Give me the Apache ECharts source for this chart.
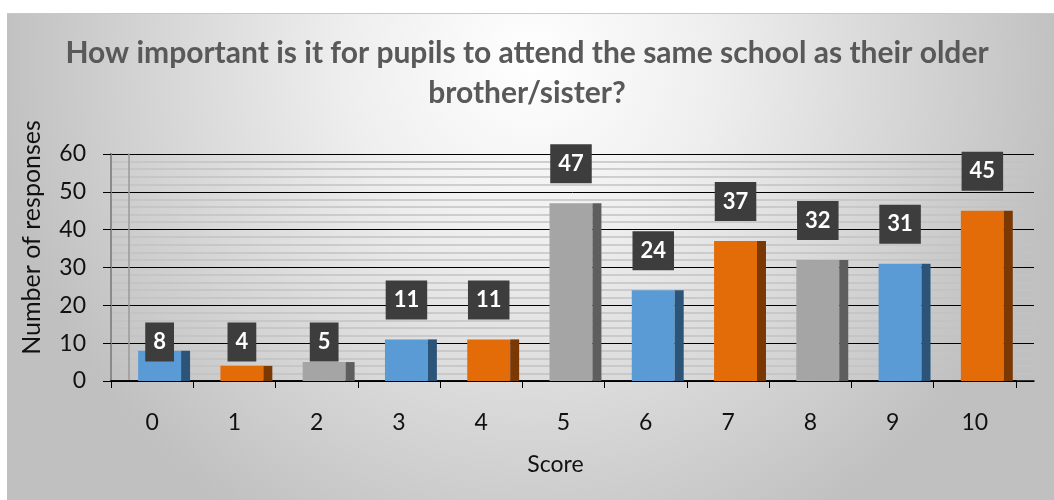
<!DOCTYPE html>
<html>
<head>
<meta charset="utf-8">
<script src="https://cdn.jsdelivr.net/npm/echarts@6/dist/echarts.min.js"></script>
<style>
html,body{margin:0;padding:0;background:#fff;}
#chart{width:1054px;height:500px;}
</style>
</head>
<body>
<div id="chart"></div>
<script>
const titleText = 'How important is it for pupils to attend the same school as their older\nbrother/sister?';
const categories = ['0','1','2','3','4','5','6','7','8','9','10'];
const responses = [8, 4, 5, 11, 11, 47, 24, 37, 32, 31, 45];
const yMin = 0, yMax = 60, yInterval = 10;
const xName = 'Score';
const yName = 'Number of responses';

const frontColors = ['#5B9BD5', '#E36C09', '#A5A5A5'];
const sideColors = ['#2C5479', '#7A3805', '#5E5E5E'];
const FONT = 'Lato, "Open Sans", sans-serif';

const chart = echarts.init(document.getElementById('chart'), null, {renderer: 'canvas'});

const option = {
  animation: false,
  textStyle: {fontFamily: FONT},
  graphic: [
    {
      type: 'rect', z: -100, silent: true,
      shape: {x: 7, y: 13, width: 1047, height: 487},
      style: {
        fill: {
          type: 'radial', x: 0.5, y: 0.1, r: 1.1,
          colorStops: [
            {offset: 0, color: '#ffffff'},
            {offset: 0.35, color: '#eeeeee'},
            {offset: 1, color: '#c0c0c0'}
          ]
        },
        stroke: null
      }
    },
    {
      type: 'line', z: -99, silent: true,
      shape: {x1: 7, y1: 13.5, x2: 1054, y2: 13.5},
      style: {stroke: '#c8c8c8', lineWidth: 1}
    }
  ],
  title: {
    text: titleText,
    left: 'center',
    top: 28,
    textStyle: {
      fontFamily: FONT, fontWeight: 'bold', fontSize: 30,
      color: '#595959', lineHeight: 40, align: 'center'
    }
  },
  grid: [
    {left: 111, right: 38, top: 154, bottom: 119},
    {left: 111, right: 20, top: 154, bottom: 119}
  ],
  xAxis: [
    {
      type: 'category', gridIndex: 0, data: categories,
      axisLine: {show: true, lineStyle: {color: '#000', width: 1.5}},
      axisTick: {show: true, length: 7, lineStyle: {color: '#000'}},
      axisLabel: {color: '#111', fontSize: 23, margin: 30, fontFamily: FONT},
      name: xName, nameLocation: 'middle', nameGap: 72,
      nameTextStyle: {color: '#111', fontSize: 23, fontFamily: FONT, padding: [0, 16, 0, 0]},
      splitLine: {show: false}
    },
    {
      type: 'value', gridIndex: 1, min: 0, max: 1, show: true,
      axisLine: {show: true, lineStyle: {color: '#000', width: 1.5}},
      axisTick: {show: false}, axisLabel: {show: false}, splitLine: {show: false}
    }
  ],
  yAxis: [
    {
      type: 'value', gridIndex: 0, min: yMin, max: yMax, interval: yInterval,
      axisLine: {show: true, lineStyle: {color: '#000', width: 1.5}},
      axisTick: {show: true, length: 8, lineStyle: {color: '#000'}},
      axisLabel: {color: '#111', fontSize: 23, margin: 25, fontFamily: FONT},
      splitLine: {show: false},
      name: yName, nameLocation: 'middle', nameGap: 67, nameRotate: 90,
      nameTextStyle: {color: '#111', fontSize: 25, fontFamily: FONT, padding: [0, 0, 0, 60]}
    },
    {
      type: 'value', gridIndex: 1, min: yMin, max: yMax, interval: yInterval,
      position: 'right',
      axisLine: {show: true, lineStyle: {color: '#a8a8a8', width: 1.5}},
      axisTick: {show: false}, axisLabel: {show: false},
      splitLine: {show: true, lineStyle: {color: '#000', width: 1}},
      minorTick: {show: false, splitNumber: 5},
      minorSplitLine: {show: true, lineStyle: {color: '#c2c2c2', width: 1.5}}
    },
    {
      type: 'value', gridIndex: 1, min: yMin, max: yMax, interval: yInterval,
      position: 'left', offset: -18,
      axisLine: {show: true, lineStyle: {color: '#9a9a9a', width: 1.5}},
      axisTick: {show: false}, axisLabel: {show: false}, splitLine: {show: false}
    }
  ],
  series: [
    {
      type: 'custom',
      xAxisIndex: 0, yAxisIndex: 0,
      data: responses.map((v, i) => [i, v]),
      encode: {x: 0, y: 1},
      z: 10,
      renderItem: function (params, api) {
        const idx = api.value(0);
        const v = api.value(1);
        const base = api.coord([idx, 0]);
        const top = api.coord([idx, v]);
        const bw = api.size([1, 0])[0];
        const cx = base[0];
        const frontL = cx - bw * 0.17;
        const frontW = bw * 0.522;
        const sideW = bw * 0.109;
        const c = idx % 3;
        const labelY = v >= 10 ? top[1] - 39.5 : api.coord([idx, 10.3])[1];
        return {
          type: 'group',
          children: [
            {
              type: 'rect',
              shape: {x: frontL, y: top[1], width: frontW, height: base[1] - top[1]},
              style: {fill: frontColors[c]}
            },
            {
              type: 'rect',
              shape: {x: frontL + frontW, y: top[1], width: sideW, height: base[1] - top[1]},
              style: {fill: sideColors[c]}
            },
            {
              type: 'text',
              z2: 20,
              style: {
                x: frontL + frontW / 2, y: labelY,
                text: String(v),
                fill: '#ffffff',
                font: 'bold 22px ' + FONT,
                align: 'center', verticalAlign: 'middle',
                backgroundColor: '#3d3d3d',
                padding: [9, 8, 8, 8],
                lineHeight: 22
              }
            }
          ]
        };
      }
    }
  ]
};
chart.setOption(option);
</script>
</body>
</html>
